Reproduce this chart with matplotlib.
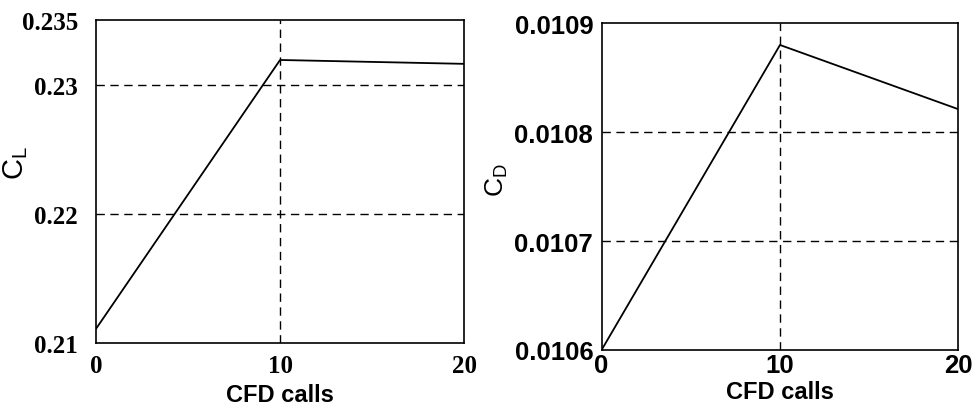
import matplotlib
matplotlib.use("Agg")
import matplotlib.pyplot as plt

cfd_calls = [0, 10, 20]
cl_values = [0.2111, 0.2319, 0.2316]
cd_values = [0.01060, 0.01088, 0.010821]

cl_ticks = [0.21, 0.22, 0.23, 0.235]
cl_ticklabels = ["0.21", "0.22", "0.23", "0.235"]
cd_ticks = [0.0106, 0.0107, 0.0108, 0.0109]
cd_ticklabels = ["0.0106", "0.0107", "0.0108", "0.0109"]
x_ticks = [0, 10, 20]

fig = plt.figure(figsize=(9.75, 4.1), dpi=100)
ax1 = fig.add_axes([0.0985, 0.161, 0.3775, 0.788])
ax2 = fig.add_axes([0.617, 0.144, 0.366, 0.797])

dash = (0, (6, 4))

def style(ax, xpad, ypad):
    for s in ax.spines.values():
        s.set_linewidth(1.2)
        s.set_color("black")
    ax.tick_params(axis="x", length=0, pad=xpad)
    ax.tick_params(axis="y", length=0, pad=ypad)

# Left panel
ax1.plot(cfd_calls, cl_values, color="black", lw=1.3, zorder=3)
ax1.set_xlim(0, 20)
ax1.set_ylim(0.21, 0.235)
ax1.set_xticks(x_ticks)
ax1.set_yticks(cl_ticks)
ax1.set_yticklabels(cl_ticklabels)
for v in [0.22, 0.23]:
    ax1.axhline(v, color="black", lw=1.0, linestyle=dash, zorder=1)
ax1.axvline(10, color="black", lw=1.0, linestyle=dash, zorder=1)
style(ax1, 8, 13)
for lab in ax1.get_xticklabels() + ax1.get_yticklabels():
    lab.set_fontfamily("Liberation Serif")
    lab.set_fontweight("bold")
    lab.set_fontsize(18)
ax1.set_xlabel("CFD calls", fontfamily="Liberation Sans", fontweight="bold", fontsize=17, labelpad=4)
ax1.set_ylabel(r"$\mathregular{C_L}$", fontfamily="Liberation Sans", fontsize=21)
ax1.yaxis.set_label_coords(-0.18, 0.56)

# Right panel
ax2.plot(cfd_calls, cd_values, color="black", lw=1.3, zorder=3)
ax2.set_xlim(0, 20)
ax2.set_ylim(0.0106, 0.0109)
ax2.set_xticks(x_ticks)
ax2.set_yticks(cd_ticks)
ax2.set_yticklabels(cd_ticklabels)
for v in [0.0107, 0.0108]:
    ax2.axhline(v, color="black", lw=1.0, linestyle=dash, zorder=1)
ax2.axvline(10, color="black", lw=1.0, linestyle=dash, zorder=1)
style(ax2, 2, 6)
for lab in ax2.get_xticklabels() + ax2.get_yticklabels():
    lab.set_fontfamily("Liberation Sans")
    lab.set_fontweight("bold")
    lab.set_fontsize(18.5)
ax2.set_xlabel("CFD calls", fontfamily="Liberation Sans", fontweight="bold", fontsize=17, labelpad=2)
ax2.set_ylabel(r"$\mathregular{C_D}$", fontfamily="Liberation Sans", fontsize=19)
ax2.yaxis.set_label_coords(-0.258, 0.523)

fig.savefig("out.png", dpi=100)
